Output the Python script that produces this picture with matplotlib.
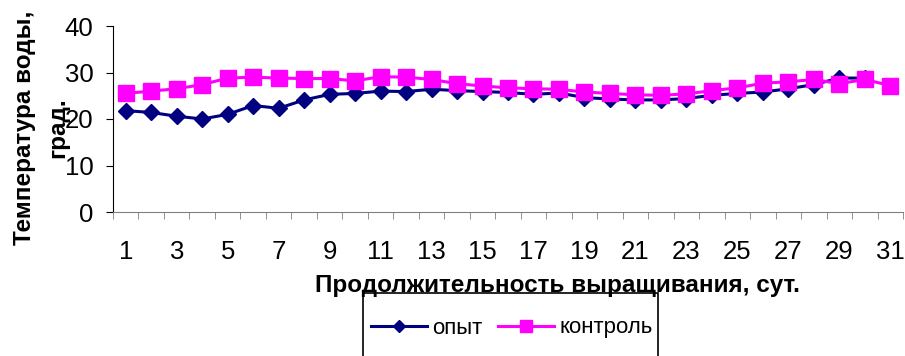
import numpy as np
import matplotlib
matplotlib.use("Agg")
import matplotlib.pyplot as plt
from matplotlib.patches import Rectangle

plt.rcParams['font.family'] = ['Liberation Sans', 'DejaVu Sans']

# сутки выращивания
days = list(range(1, 32))

# температура воды, град.
opyt = [21.8, 21.4, 20.6, 20.0, 21.0, 22.9, 22.3, 24.1, 25.3, 25.5,
        26.0, 25.9, 26.4, 26.1, 25.9, 25.7, 25.3, 25.6, 24.6, 24.3,
        24.1, 24.1, 24.4, 25.1, 25.5, 25.8, 26.5, 27.4, 28.8, 28.8, np.nan]
kontrol = [25.5, 26.0, 26.5, 27.4, 28.8, 29.0, 28.8, 28.7, 28.7, 28.2,
           29.1, 29.0, 28.5, 27.6, 27.1, 26.7, 26.5, 26.4, 25.8, 25.5,
           25.2, 25.1, 25.4, 26.1, 26.7, 27.7, 28.0, 28.5, 27.6, 28.5, 27.2]

fig = plt.figure(figsize=(9.05, 3.56), dpi=100)
ax = fig.add_axes([113/905, 1 - 212/356, 790/905, 186/356])

x = np.arange(len(days))
ax.plot(x, opyt, color='#000080', lw=2.2, marker='D', ms=8.5, label='опыт', zorder=3)
ax.plot(x, kontrol, color='#FF00FF', lw=2.2, marker='s', ms=11.5, label='контроль', zorder=4)

ax.set_xlim(-0.5, len(days) - 0.5)
ax.set_ylim(0, 40)
ax.set_yticks([0, 10, 20, 30, 40])
ax.set_xticks(x[::2])
ax.set_xticklabels([str(d) for d in days[::2]])
ax.set_xticks(np.arange(-0.5, len(days), 1), minor=True)
ax.tick_params(axis='x', which='major', length=0, labelsize=18.5, pad=20)
ax.tick_params(axis='x', which='minor', length=5, color='#808080', direction='out')
ax.tick_params(axis='y', length=5, labelsize=18.5, pad=9)

for s in ['top', 'right']:
    ax.spines[s].set_visible(False)
ax.spines['bottom'].set_color('#808080')
ax.spines['left'].set_color('black')

ax.set_xlabel('Продолжительность выращивания, сут.', fontsize=17.5, fontweight='bold')
ax.xaxis.set_label_coords(0.563, -0.335)

# подпись оси Y в две строки
fig.text(24/905, 1 - 128/356, 'Температура воды,', rotation=90, ha='center', va='center',
         fontsize=17.5, fontweight='bold')
fig.text(58/905, 1 - 128/356, 'град.', rotation=90, ha='center', va='center',
         fontsize=17.5, fontweight='bold')

# рамка легенды внизу
fig.patches.append(Rectangle((363/905, -0.1), 295/905, 0.1 + 63/356, transform=fig.transFigure,
                             fill=False, edgecolor='black', lw=1.2))
fig.legend(loc='center', bbox_to_anchor=(512/905, 1 - 328/356), ncol=2, frameon=False,
           fontsize=16, handlelength=2.5, handletextpad=0.25, columnspacing=0.7,
           markerscale=0.75)

fig.savefig('out.png', dpi=100)
